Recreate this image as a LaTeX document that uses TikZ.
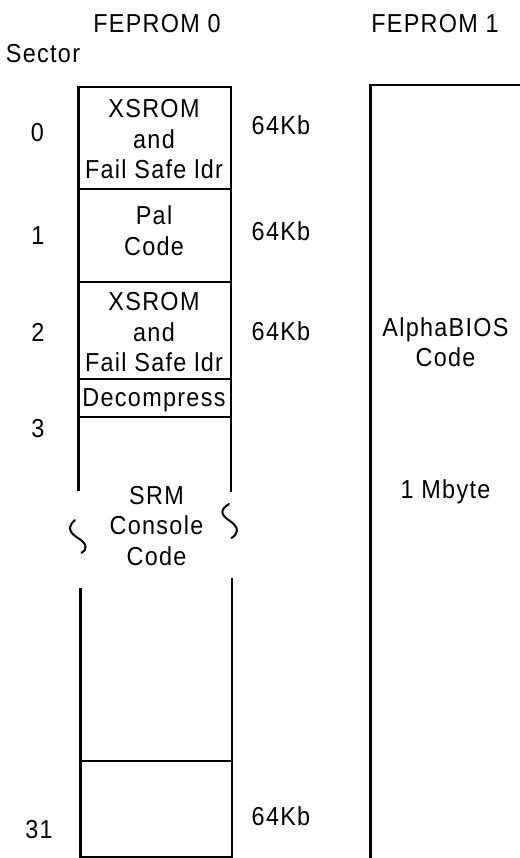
\documentclass[tikz,border=0pt]{standalone}
\usepackage{fontspec}
\setmainfont{Liberation Sans}[FakeStretch=0.9,LetterSpace=5]

\begin{document}
\begin{tikzpicture}[x=1pt,y=-1pt,
  every node/.style={font=\fontsize{26}{30.5}\selectfont, align=center, inner sep=0pt, outer sep=0pt, anchor=base},
  box/.style={line width=2.5pt},
  brk/.style={line width=2pt, line cap=round}]
\useasboundingbox (0,0) rectangle (519,858);

\node (title0) at (157,33) {FEPROM 0};
\node (title1) at (435,33) {FEPROM 1};
\node (sector) at (43,63) {Sector};

\node (sec0) at (37.5,142) {0};
\node (sec1) at (38,245) {1};
\node (sec2) at (38,341) {2};
\node (sec3) at (38,437) {3};
\node (sec31) at (39,838) {31};

\node (size0) at (281,135) {64Kb};
\node (size1) at (281,241) {64Kb};
\node (size2) at (281,340) {64Kb};
\node (size31) at (281,825) {64Kb};

% multi-line nodes sit on their last line
\node (xsrom0) at (154,179) {XSROM\\and\\Fail Safe ldr};
\node (pal) at (154,255) {Pal\\Code};
\node (xsrom2) at (154,371.5) {XSROM\\and\\Fail Safe ldr};
\node (decomp) at (154,406.5) {Decompress};
\node (srm) at (156.5,565) {SRM\\Console\\Code};

\node (bios) at (445.5,366.5) {AlphaBIOS\\Code};
\node (mbyte) at (445.5,498.5) {1 Mbyte};

% FEPROM 0, upper part
\draw[box] (78.5,491) -- (78.5,87) -- (231,87) -- (231,492);
\foreach \y in {189,282,379,417}
  \draw[box] (78.5,\y) -- (231,\y);
% FEPROM 0, lower part
\draw[box] (80.5,588) -- (80.5,857) -- (232,857) -- (232,578);
\draw[box] (80.5,761) -- (232,761);
% break marks
\draw[brk] (75,520) .. controls (68,526) and (68,532) .. (78,538) .. controls (88,544) and (87,550) .. (81.5,553);
\draw[brk] (229,504) .. controls (221,509) and (219,514) .. (230,521) .. controls (240,528) and (238,534) .. (231.5,538);
% FEPROM 1
\draw[box] (370.5,860) -- (370.5,85) -- (521,85);
\end{tikzpicture}
\end{document}
